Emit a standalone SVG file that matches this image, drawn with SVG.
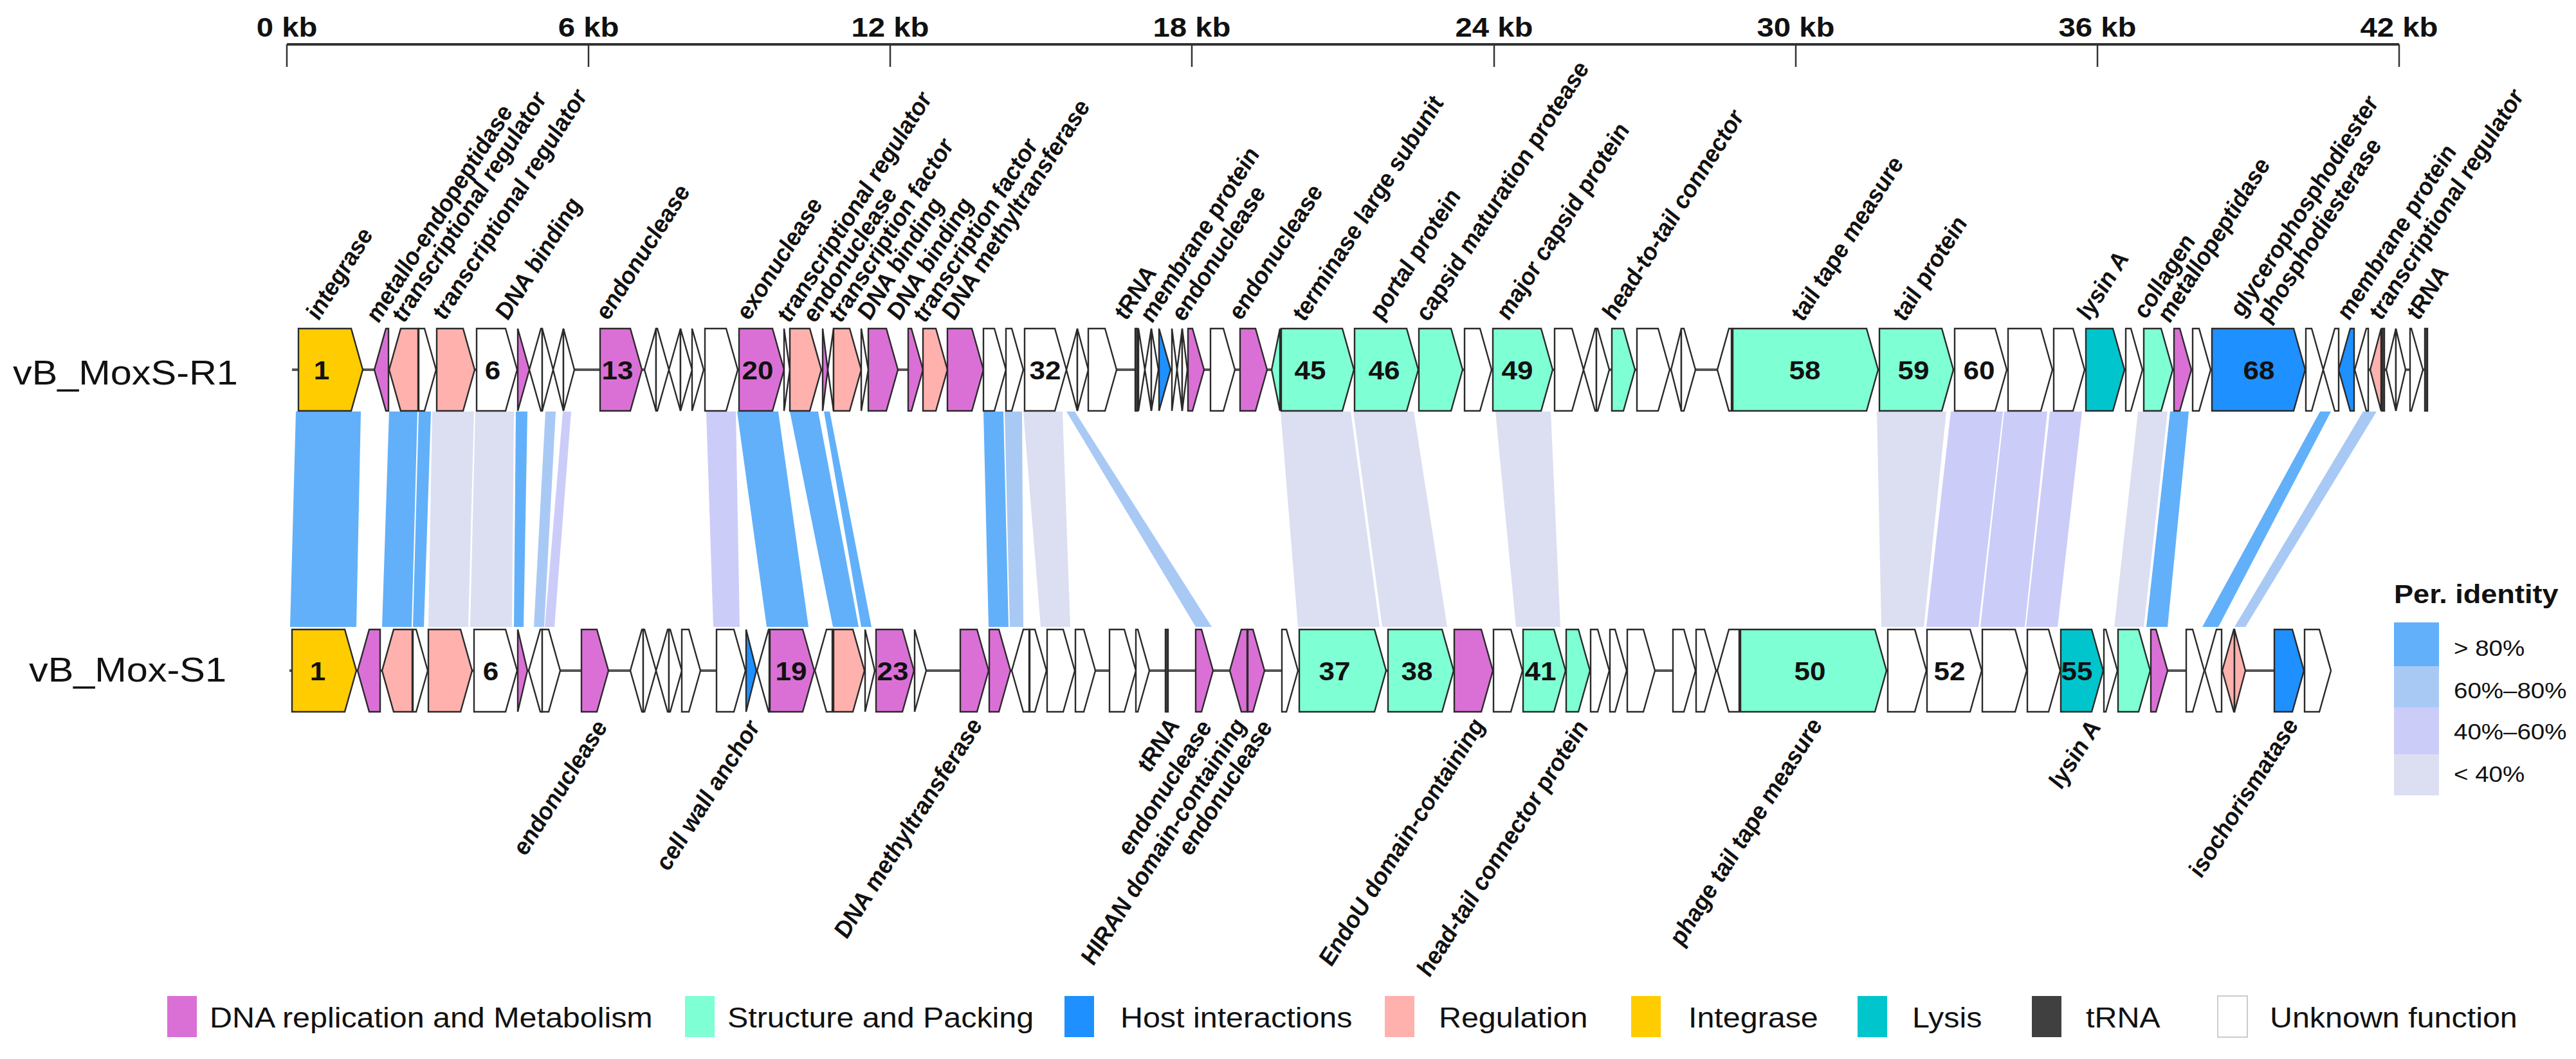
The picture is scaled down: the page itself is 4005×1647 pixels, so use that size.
<svg xmlns="http://www.w3.org/2000/svg" width="4005" height="1647" viewBox="0 0 4005 1647">
<style>
text{font-family:"Liberation Sans",Arial,sans-serif;fill:#111}
.ax{font-size:43px;font-weight:bold;text-anchor:middle}
.row{font-size:54px}
.num{font-size:40px;font-weight:bold;text-anchor:middle}
.lt{font-size:35px;font-weight:bold;font-style:italic}
.lb{font-size:35px;font-weight:bold;font-style:italic;text-anchor:end}
.leg{font-size:44px}
.pct{font-size:35px}
.ttl{font-size:41px;font-weight:bold}
.gene polygon{stroke:#2a2a2a;stroke-width:2.4;stroke-linejoin:miter}
.dna{fill:#DA70D6}.str{fill:#7FFFD4}.host{fill:#1E90FF}.reg{fill:#FFB1AE}.int{fill:#FFCC00}.lys{fill:#00C5CD}.trna{fill:#404040}.unk{fill:#fff}
.b80{fill:#62B0FA}.b60{fill:#A9C9F5}.b40{fill:#CCCCF9}.b0{fill:#DCDFF2}
.bb{stroke:#555;stroke-width:4}
</style>

<g id="axis">
<line x1="446" y1="69" x2="3730" y2="69" stroke="#333" stroke-width="4"/>
<g stroke="#333" stroke-width="2.5">
<line x1="446" y1="69" x2="446" y2="104"/><line x1="915" y1="69" x2="915" y2="104"/><line x1="1384" y1="69" x2="1384" y2="104"/><line x1="1853" y1="69" x2="1853" y2="104"/><line x1="2323" y1="69" x2="2323" y2="104"/><line x1="2792" y1="69" x2="2792" y2="104"/><line x1="3261" y1="69" x2="3261" y2="104"/><line x1="3730" y1="69" x2="3730" y2="104"/>
</g>
<text class="ax" transform="translate(446,57) scale(1.1,1)">0 kb</text>
<text class="ax" transform="translate(915,57) scale(1.1,1)">6 kb</text>
<text class="ax" transform="translate(1384,57) scale(1.1,1)">12 kb</text>
<text class="ax" transform="translate(1853,57) scale(1.1,1)">18 kb</text>
<text class="ax" transform="translate(2323,57) scale(1.1,1)">24 kb</text>
<text class="ax" transform="translate(2792,57) scale(1.1,1)">30 kb</text>
<text class="ax" transform="translate(3261,57) scale(1.1,1)">36 kb</text>
<text class="ax" transform="translate(3730,57) scale(1.1,1)">42 kb</text>
</g>

<g id="connectors">
<polygon class="b80" points="460,640 561,640 554,975 451,975"/>
<polygon class="b80" points="605,640 649,640 640,975 594,975"/>
<polygon class="b80" points="651,640 670,640 659,975 642,975"/>
<polygon class="b0" points="672,640 737,640 728,975 666,975"/>
<polygon class="b0" points="739,640 799,640 796,975 731,975"/>
<polygon class="b80" points="802,640 820,640 814,975 799,975"/>
<polygon class="b60" points="848,640 864,640 846,975 830,975"/>
<polygon class="b40" points="875,640 888,640 862,975 847,975"/>
<polygon class="b40" points="1098,640 1144,640 1150,975 1109,975"/>
<polygon class="b80" points="1146,640 1210,640 1257,975 1192,975"/>
<polygon class="b80" points="1228,640 1272,640 1335,975 1295,975"/>
<polygon class="b80" points="1281,640 1290,640 1355,975 1339,975"/>
<polygon class="b80" points="1529,640 1560,640 1568,975 1537,975"/>
<polygon class="b60" points="1562,640 1589,640 1591,975 1570,975"/>
<polygon class="b0" points="1591,640 1652,640 1664,975 1618,975"/>
<polygon class="b60" points="1658,640 1671,640 1884,975 1859,975"/>
<polygon class="b0" points="1991,640 2100,640 2145,975 2018,975"/>
<polygon class="b0" points="2104,640 2198,640 2250,975 2149,975"/>
<polygon class="b0" points="2325,640 2411,640 2426,975 2357,975"/>
<polygon class="b0" points="2918,640 3026,640 2991,975 2925,975"/>
<polygon class="b40" points="3033,640 3114,640 3076,975 2995,975"/>
<polygon class="b40" points="3116,640 3183,640 3148,975 3079,975"/>
<polygon class="b40" points="3187,640 3237,640 3199,975 3150,975"/>
<polygon class="b0" points="3324,640 3370,640 3333,975 3287,975"/>
<polygon class="b80" points="3374,640 3403,640 3370,975 3337,975"/>
<polygon class="b80" points="3607,640 3624,640 3449,975 3424,975"/>
<polygon class="b60" points="3674,640 3695,640 3491,975 3474,975"/>
</g>

<text class="row" transform="translate(20,598) scale(1.1,1)">vB_MoxS-R1</text>
<text class="row" transform="translate(45,1060) scale(1.1,1)">vB_Mox-S1</text>

<g id="row1">
<line class="bb" x1="454" y1="575" x2="3774" y2="575"/>
<g class="gene">
<g id="R1_1" class="int"><polygon points="464,511 546,511 564,575 546,639 464,639"/></g>
<g id="R1_2" class="dna"><polygon points="604,511 600,511 582,575 600,639 604,639"/></g>
<g id="R1_3" class="reg"><polygon points="650,511 623,511 605,575 623,639 650,639"/></g>
<g id="R1_4" class="unk"><polygon points="651,511 660,511 678,575 660,639 651,639"/></g>
<g id="R1_5" class="reg"><polygon points="679,511 720,511 738,575 720,639 679,639"/></g>
<g id="R1_6" class="unk"><polygon points="741,511 786,511 804,575 786,639 741,639"/></g>
<g id="R1_7" class="dna"><polygon points="805,511 823,575 805,639"/></g>
<g id="R1_8" class="unk"><polygon points="843,511 841,511 823,575 841,639 843,639"/></g>
<g id="R1_9" class="unk"><polygon points="843,511 860,575 843,639"/></g>
<g id="R1_10" class="unk"><polygon points="876,511 860,575 876,639"/></g>
<g id="R1_11" class="unk"><polygon points="876,511 893,575 876,639"/></g>
<g id="R1_13" class="dna"><polygon points="933,511 980,511 998,575 980,639 933,639"/></g>
<g id="R1_14" class="unk"><polygon points="1020,511 1002,575 1020,639"/></g>
<g id="R1_15" class="unk"><polygon points="1020,511 1022,511 1040,575 1022,639 1020,639"/></g>
<g id="R1_16" class="unk"><polygon points="1058,511 1040,575 1058,639"/></g>
<g id="R1_17" class="unk"><polygon points="1058,511 1076,575 1058,639"/></g>
<g id="R1_18" class="unk"><polygon points="1076,511 1094,575 1076,639"/></g>
<g id="R1_19" class="unk"><polygon points="1096,511 1129,511 1147,575 1129,639 1096,639"/></g>
<g id="R1_20" class="dna"><polygon points="1149,511 1201,511 1219,575 1201,639 1149,639"/></g>
<g id="R1_21" class="unk"><polygon points="1219,511 1228,575 1219,639"/></g>
<g id="R1_22" class="reg"><polygon points="1228,511 1259,511 1277,575 1259,639 1228,639"/></g>
<g id="R1_23" class="dna"><polygon points="1279,511 1287,575 1279,639"/></g>
<g id="R1_24" class="unk"><polygon points="1296,511 1287,575 1296,639"/></g>
<g id="R1_25" class="reg"><polygon points="1296,511 1321,511 1339,575 1321,639 1296,639"/></g>
<g id="R1_26" class="unk"><polygon points="1339,511 1350,575 1339,639"/></g>
<g id="R1_27" class="dna"><polygon points="1350,511 1378,511 1396,575 1378,639 1350,639"/></g>
<g id="R1_28" class="dna"><polygon points="1412,511 1417,511 1435,575 1417,639 1412,639"/></g>
<g id="R1_29" class="reg"><polygon points="1435,511 1455,511 1473,575 1455,639 1435,639"/></g>
<g id="R1_30" class="dna"><polygon points="1473,511 1511,511 1529,575 1511,639 1473,639"/></g>
<g id="R1_31" class="unk"><polygon points="1529,511 1546,511 1564,575 1546,639 1529,639"/></g>
<g id="R1_31b" class="unk"><polygon points="1564,511 1573,511 1591,575 1573,639 1564,639"/></g>
<g id="R1_32" class="unk"><polygon points="1593,511 1640,511 1658,575 1640,639 1593,639"/></g>
<g id="R1_33" class="unk"><polygon points="1675,511 1658,575 1675,639"/></g>
<g id="R1_34" class="unk"><polygon points="1675,511 1692,575 1675,639"/></g>
<g id="R1_35" class="unk"><polygon points="1692,511 1718,511 1736,575 1718,639 1692,639"/></g>
<g id="R1_36" class="trna"><polygon points="1765,511 1769,511 1769,639 1765,639"/></g>
<g id="R1_37" class="unk"><polygon points="1770,511 1780,575 1770,639"/></g>
<g id="R1_38" class="unk"><polygon points="1790,511 1780,575 1790,639"/></g>
<g id="R1_39" class="unk"><polygon points="1790,511 1801,575 1790,639"/></g>
<g id="R1_40" class="host"><polygon points="1802,511 1820,575 1802,639"/></g>
<g id="R1_41" class="unk"><polygon points="1822,511 1830,575 1822,639"/></g>
<g id="R1_42" class="unk"><polygon points="1838,511 1830,575 1838,639"/></g>
<g id="R1_43" class="unk"><polygon points="1838,511 1846,575 1838,639"/></g>
<g id="R1_44" class="dna"><polygon points="1847,511 1854,511 1872,575 1854,639 1847,639"/></g>
<g id="R1_44b" class="unk"><polygon points="1882,511 1902,511 1920,575 1902,639 1882,639"/></g>
<g id="R1_44c" class="dna"><polygon points="1928,511 1952,511 1970,575 1952,639 1928,639"/></g>
<g id="R1_44d" class="str"><polygon points="1990,511 1977,575 1990,639"/></g>
<g id="R1_45" class="str"><polygon points="1992,511 2087,511 2105,575 2087,639 1992,639"/></g>
<g id="R1_46" class="str"><polygon points="2106,511 2187,511 2205,575 2187,639 2106,639"/></g>
<g id="R1_47" class="str"><polygon points="2206,511 2256,511 2274,575 2256,639 2206,639"/></g>
<g id="R1_48" class="unk"><polygon points="2277,511 2301,511 2319,575 2301,639 2277,639"/></g>
<g id="R1_49" class="str"><polygon points="2321,511 2396,511 2414,575 2396,639 2321,639"/></g>
<g id="R1_50" class="unk"><polygon points="2417,511 2444,511 2462,575 2444,639 2417,639"/></g>
<g id="R1_51" class="unk"><polygon points="2482,511 2480,511 2462,575 2480,639 2482,639"/></g>
<g id="R1_52" class="unk"><polygon points="2482,511 2484,511 2502,575 2484,639 2482,639"/></g>
<g id="R1_53" class="str"><polygon points="2506,511 2524,511 2542,575 2524,639 2506,639"/></g>
<g id="R1_54" class="unk"><polygon points="2545,511 2578,511 2596,575 2578,639 2545,639"/></g>
<g id="R1_55" class="unk"><polygon points="2614,511 2598,575 2614,639"/></g>
<g id="R1_56" class="unk"><polygon points="2614,511 2618,511 2636,575 2618,639 2614,639"/></g>
<g id="R1_57" class="unk"><polygon points="2692,511 2688,511 2670,575 2688,639 2692,639"/></g>
<g id="R1_58" class="str"><polygon points="2694,511 2902,511 2920,575 2902,639 2694,639"/></g>
<g id="R1_59" class="str"><polygon points="2922,511 3019,511 3037,575 3019,639 2922,639"/></g>
<g id="R1_60" class="unk"><polygon points="3039,511 3102,511 3120,575 3102,639 3039,639"/></g>
<g id="R1_61" class="unk"><polygon points="3122,511 3173,511 3191,575 3173,639 3122,639"/></g>
<g id="R1_62" class="unk"><polygon points="3193,511 3223,511 3241,575 3223,639 3193,639"/></g>
<g id="R1_63" class="lys"><polygon points="3243,511 3285,511 3303,575 3285,639 3243,639"/></g>
<g id="R1_64" class="unk"><polygon points="3305,511 3313,511 3331,575 3313,639 3305,639"/></g>
<g id="R1_65" class="str"><polygon points="3333,511 3360,511 3378,575 3360,639 3333,639"/></g>
<g id="R1_66" class="dna"><polygon points="3380,511 3389,511 3407,575 3389,639 3380,639"/></g>
<g id="R1_67" class="unk"><polygon points="3409,511 3419,511 3437,575 3419,639 3409,639"/></g>
<g id="R1_68" class="host"><polygon points="3439,511 3566,511 3584,575 3566,639 3439,639"/></g>
<g id="R1_69" class="unk"><polygon points="3585,511 3594,511 3612,575 3594,639 3585,639"/></g>
<g id="R1_70" class="unk"><polygon points="3636,511 3630,511 3612,575 3630,639 3636,639"/></g>
<g id="R1_71" class="host"><polygon points="3660,511 3654,511 3636,575 3654,639 3660,639"/></g>
<g id="R1_72" class="unk"><polygon points="3682,511 3679,511 3661,575 3679,639 3682,639"/></g>
<g id="R1_73" class="reg"><polygon points="3702,511 3685,575 3702,639"/></g>
<g id="R1_74" class="trna"><polygon points="3703,511 3707,511 3707,639 3703,639"/></g>
<g id="R1_75" class="unk"><polygon points="3725,511 3710,575 3725,639"/></g>
<g id="R1_76" class="unk"><polygon points="3725,511 3740,575 3725,639"/></g>
<g id="R1_77" class="unk"><polygon points="3747,511 3749,511 3767,575 3749,639 3747,639"/></g>
<g id="R1_78" class="trna"><polygon points="3770,511 3774,511 3774,639 3770,639"/></g>
</g>
<g id="row1-nums">
<text class="num" transform="translate(500,590) scale(1.1,1)">1</text>
<text class="num" transform="translate(766,590) scale(1.1,1)">6</text>
<text class="num" transform="translate(960,590) scale(1.1,1)">13</text>
<text class="num" transform="translate(1178,590) scale(1.1,1)">20</text>
<text class="num" transform="translate(1625,590) scale(1.1,1)">32</text>
<text class="num" transform="translate(2037,590) scale(1.1,1)">45</text>
<text class="num" transform="translate(2152,590) scale(1.1,1)">46</text>
<text class="num" transform="translate(2359,590) scale(1.1,1)">49</text>
<text class="num" transform="translate(2806,590) scale(1.1,1)">58</text>
<text class="num" transform="translate(2975,590) scale(1.1,1)">59</text>
<text class="num" transform="translate(3077,590) scale(1.1,1)">60</text>
<text class="num" transform="translate(3512,590) scale(1.1,1)">68</text>
</g>
</g>

<g id="row2">
<line class="bb" x1="450" y1="1043" x2="3624" y2="1043"/>
<g class="gene">
<g id="S1_1" class="int"><polygon points="454,979 536,979 554,1043 536,1107 454,1107"/></g>
<g id="S1_2" class="dna"><polygon points="591,979 574,979 556,1043 574,1107 591,1107"/></g>
<g id="S1_3" class="reg"><polygon points="641,979 612,979 594,1043 612,1107 641,1107"/></g>
<g id="S1_4" class="unk"><polygon points="642,979 647,979 665,1043 647,1107 642,1107"/></g>
<g id="S1_5" class="reg"><polygon points="666,979 716,979 734,1043 716,1107 666,1107"/></g>
<g id="S1_6" class="unk"><polygon points="737,979 786,979 804,1043 786,1107 737,1107"/></g>
<g id="S1_7" class="dna"><polygon points="805,979 820,1043 805,1107"/></g>
<g id="S1_8" class="unk"><polygon points="843,979 840,979 822,1043 840,1107 843,1107"/></g>
<g id="S1_9" class="unk"><polygon points="843,979 853,979 871,1043 853,1107 843,1107"/></g>
<g id="S1_10" class="dna"><polygon points="904,979 928,979 946,1043 928,1107 904,1107"/></g>
<g id="S1_11" class="unk"><polygon points="1000,979 998,979 980,1043 998,1107 1000,1107"/></g>
<g id="S1_12" class="unk"><polygon points="1000,979 1002,979 1020,1043 1002,1107 1000,1107"/></g>
<g id="S1_13" class="unk"><polygon points="1040,979 1038,979 1020,1043 1038,1107 1040,1107"/></g>
<g id="S1_14" class="unk"><polygon points="1040,979 1042,979 1060,1043 1042,1107 1040,1107"/></g>
<g id="S1_15" class="unk"><polygon points="1060,979 1071,979 1089,1043 1071,1107 1060,1107"/></g>
<g id="S1_16" class="unk"><polygon points="1114,979 1141,979 1159,1043 1141,1107 1114,1107"/></g>
<g id="S1_17" class="host"><polygon points="1160,979 1176,1043 1160,1107"/></g>
<g id="S1_18" class="unk"><polygon points="1196,979 1195,979 1177,1043 1195,1107 1196,1107"/></g>
<g id="S1_19" class="dna"><polygon points="1197,979 1248,979 1266,1043 1248,1107 1197,1107"/></g>
<g id="S1_20" class="unk"><polygon points="1294,979 1285,979 1267,1043 1285,1107 1294,1107"/></g>
<g id="S1_21" class="reg"><polygon points="1296,979 1326,979 1344,1043 1326,1107 1296,1107"/></g>
<g id="S1_22" class="unk"><polygon points="1345,979 1360,1043 1345,1107"/></g>
<g id="S1_23" class="dna"><polygon points="1362,979 1403,979 1421,1043 1403,1107 1362,1107"/></g>
<g id="S1_24" class="unk"><polygon points="1422,979 1440,1043 1422,1107"/></g>
<g id="S1_25" class="dna"><polygon points="1493,979 1519,979 1537,1043 1519,1107 1493,1107"/></g>
<g id="S1_26" class="dna"><polygon points="1538,979 1553,979 1571,1043 1553,1107 1538,1107"/></g>
<g id="S1_27" class="unk"><polygon points="1600,979 1591,979 1573,1043 1591,1107 1600,1107"/></g>
<g id="S1_28" class="unk"><polygon points="1601,979 1609,979 1627,1043 1609,1107 1601,1107"/></g>
<g id="S1_29" class="unk"><polygon points="1628,979 1653,979 1671,1043 1653,1107 1628,1107"/></g>
<g id="S1_30" class="unk"><polygon points="1672,979 1685,979 1703,1043 1685,1107 1672,1107"/></g>
<g id="S1_31" class="unk"><polygon points="1725,979 1748,979 1766,1043 1748,1107 1725,1107"/></g>
<g id="S1_32" class="unk"><polygon points="1766,979 1769,979 1787,1043 1769,1107 1766,1107"/></g>
<g id="S1_33" class="trna"><polygon points="1812,979 1816,979 1816,1107 1812,1107"/></g>
<g id="S1_34" class="dna"><polygon points="1859,979 1868,979 1886,1043 1868,1107 1859,1107"/></g>
<g id="S1_35" class="dna"><polygon points="1939,979 1930,979 1912,1043 1930,1107 1939,1107"/></g>
<g id="S1_36" class="dna"><polygon points="1940,979 1948,979 1966,1043 1948,1107 1940,1107"/></g>
<g id="S1_36b" class="unk"><polygon points="1993,979 2000,979 2018,1043 2000,1107 1993,1107"/></g>
<g id="S1_37" class="str"><polygon points="2020,979 2137,979 2155,1043 2137,1107 2020,1107"/></g>
<g id="S1_38" class="str"><polygon points="2158,979 2242,979 2260,1043 2242,1107 2158,1107"/></g>
<g id="S1_39" class="dna"><polygon points="2261,979 2303,979 2321,1043 2303,1107 2261,1107"/></g>
<g id="S1_40" class="unk"><polygon points="2322,979 2349,979 2367,1043 2349,1107 2322,1107"/></g>
<g id="S1_41" class="str"><polygon points="2368,979 2416,979 2434,1043 2416,1107 2368,1107"/></g>
<g id="S1_42" class="str"><polygon points="2435,979 2454,979 2472,1043 2454,1107 2435,1107"/></g>
<g id="S1_43" class="unk"><polygon points="2473,979 2484,979 2502,1043 2484,1107 2473,1107"/></g>
<g id="S1_44" class="unk"><polygon points="2503,979 2511,979 2529,1043 2511,1107 2503,1107"/></g>
<g id="S1_45" class="unk"><polygon points="2530,979 2555,979 2573,1043 2555,1107 2530,1107"/></g>
<g id="S1_46" class="unk"><polygon points="2601,979 2618,979 2636,1043 2618,1107 2601,1107"/></g>
<g id="S1_47" class="unk"><polygon points="2637,979 2650,979 2668,1043 2650,1107 2637,1107"/></g>
<g id="S1_48" class="unk"><polygon points="2704,979 2688,979 2670,1043 2688,1107 2704,1107"/></g>
<g id="S1_50" class="str"><polygon points="2706,979 2915,979 2933,1043 2915,1107 2706,1107"/></g>
<g id="S1_51" class="unk"><polygon points="2935,979 2977,979 2995,1043 2977,1107 2935,1107"/></g>
<g id="S1_52" class="unk"><polygon points="2996,979 3063,979 3081,1043 3063,1107 2996,1107"/></g>
<g id="S1_53" class="unk"><polygon points="3082,979 3133,979 3151,1043 3133,1107 3082,1107"/></g>
<g id="S1_54" class="unk"><polygon points="3152,979 3185,979 3203,1043 3185,1107 3152,1107"/></g>
<g id="S1_55" class="lys"><polygon points="3204,979 3252,979 3270,1043 3252,1107 3204,1107"/></g>
<g id="S1_56" class="unk"><polygon points="3271,979 3274,979 3292,1043 3274,1107 3271,1107"/></g>
<g id="S1_57" class="str"><polygon points="3293,979 3325,979 3343,1043 3325,1107 3293,1107"/></g>
<g id="S1_58" class="dna"><polygon points="3344,979 3352,979 3370,1043 3352,1107 3344,1107"/></g>
<g id="S1_59" class="unk"><polygon points="3399,979 3409,979 3427,1043 3409,1107 3399,1107"/></g>
<g id="S1_60" class="unk"><polygon points="3454,979 3446,979 3428,1043 3446,1107 3454,1107"/></g>
<g id="S1_61" class="reg"><polygon points="3474,979 3473,979 3455,1043 3473,1107 3474,1107"/></g>
<g id="S1_62" class="reg"><polygon points="3474,979 3491,1043 3474,1107"/></g>
<g id="S1_63" class="host"><polygon points="3536,979 3564,979 3582,1043 3564,1107 3536,1107"/></g>
<g id="S1_64" class="unk"><polygon points="3583,979 3606,979 3624,1043 3606,1107 3583,1107"/></g>
</g>
<g id="row2-nums">
<text class="num" transform="translate(494,1058) scale(1.1,1)">1</text>
<text class="num" transform="translate(763,1058) scale(1.1,1)">6</text>
<text class="num" transform="translate(1230,1058) scale(1.1,1)">19</text>
<text class="num" transform="translate(1388,1058) scale(1.1,1)">23</text>
<text class="num" transform="translate(2075,1058) scale(1.1,1)">37</text>
<text class="num" transform="translate(2203,1058) scale(1.1,1)">38</text>
<text class="num" transform="translate(2395,1058) scale(1.1,1)">41</text>
<text class="num" transform="translate(2814,1058) scale(1.1,1)">50</text>
<text class="num" transform="translate(3031,1058) scale(1.1,1)">52</text>
<text class="num" transform="translate(3229,1058) scale(1.1,1)">55</text>
</g>
</g>

<g id="labels-top">
<text class="lt" transform="translate(496,499) scale(1.1,1) rotate(-60)">integrase</text>
<text class="lt" transform="translate(589,503) scale(1.1,1) rotate(-60)">metallo-endopeptidase</text>
<text class="lt" transform="translate(629,503) scale(1.1,1) rotate(-60)">transcriptional regulator</text>
<text class="lt" transform="translate(692,499) scale(1.1,1) rotate(-60)">transcriptional regulator</text>
<text class="lt" transform="translate(790,499) scale(1.1,1) rotate(-60)">DNA binding</text>
<text class="lt" transform="translate(946,499) scale(1.1,1) rotate(-60)">endonuclease</text>
<text class="lt" transform="translate(1165,499) scale(1.1,1) rotate(-60)">exonuclease</text>
<text class="lt" transform="translate(1228,503) scale(1.1,1) rotate(-60)">transcriptional regulator</text>
<text class="lt" transform="translate(1268,503) scale(1.1,1) rotate(-60)">endonuclease</text>
<text class="lt" transform="translate(1308,503) scale(1.1,1) rotate(-60)">transcription factor</text>
<text class="lt" transform="translate(1353,499) scale(1.1,1) rotate(-60)">DNA binding</text>
<text class="lt" transform="translate(1399,499) scale(1.1,1) rotate(-60)">DNA binding</text>
<text class="lt" transform="translate(1439,503) scale(1.1,1) rotate(-60)">transcription factor</text>
<text class="lt" transform="translate(1484,499) scale(1.1,1) rotate(-60)">DNA methyltransferase</text>
<text class="lt" transform="translate(1752,499) scale(1.1,1) rotate(-60)">tRNA</text>
<text class="lt" transform="translate(1792,503) scale(1.1,1) rotate(-60)">membrane protein</text>
<text class="lt" transform="translate(1841,501) scale(1.1,1) rotate(-60)">endonuclease</text>
<text class="lt" transform="translate(1930,499) scale(1.1,1) rotate(-60)">endonuclease</text>
<text class="lt" transform="translate(2029,501) scale(1.1,1) rotate(-60)">terminase large subunit</text>
<text class="lt" transform="translate(2149,499) scale(1.1,1) rotate(-60)">portal protein</text>
<text class="lt" transform="translate(2221,501) scale(1.1,1) rotate(-60)">capsid maturation protease</text>
<text class="lt" transform="translate(2346,499) scale(1.1,1) rotate(-60)">major capsid protein</text>
<text class="lt" transform="translate(2511,499) scale(1.1,1) rotate(-60)">head-to-tail connector</text>
<text class="lt" transform="translate(2804,501) scale(1.1,1) rotate(-60)">tail tape measure</text>
<text class="lt" transform="translate(2962,501) scale(1.1,1) rotate(-60)">tail protein</text>
<text class="lt" transform="translate(3249,499) scale(1.1,1) rotate(-60)">lysin A</text>
<text class="lt" transform="translate(3337,497) scale(1.1,1) rotate(-60)">collagen</text>
<text class="lt" transform="translate(3374,503) scale(1.1,1) rotate(-60)">metallopeptidase</text>
<text class="lt" transform="translate(3487,494) scale(1.1,1) rotate(-60)">glycerophosphodiester</text>
<text class="lt" transform="translate(3528,503) scale(1.1,1) rotate(-60)">phosphodiesterase</text>
<text class="lt" transform="translate(3653,499) scale(1.1,1) rotate(-60)">membrane protein</text>
<text class="lt" transform="translate(3703,499) scale(1.1,1) rotate(-60)">transcriptional regulator</text>
<text class="lt" transform="translate(3761,499) scale(1.1,1) rotate(-60)">tRNA</text>
</g>

<g id="labels-bottom">
<text class="lb" transform="translate(946,1130) scale(1.1,1) rotate(-60)">endonuclease</text>
<text class="lb" transform="translate(1183,1130) scale(1.1,1) rotate(-60)">cell wall anchor</text>
<text class="lb" transform="translate(1529,1127) scale(1.1,1) rotate(-60)">DNA methyltransferase</text>
<text class="lb" transform="translate(1836,1127) scale(1.1,1) rotate(-60)">tRNA</text>
<text class="lb" transform="translate(1886,1130) scale(1.1,1) rotate(-60)">endonuclease</text>
<text class="lb" transform="translate(1939,1127) scale(1.1,1) rotate(-60)">HIRAN domain-containing</text>
<text class="lb" transform="translate(1980,1130) scale(1.1,1) rotate(-60)">endonuclease</text>
<text class="lb" transform="translate(2310,1127) scale(1.1,1) rotate(-60)">EndoU domain-containing</text>
<text class="lb" transform="translate(2471,1130) scale(1.1,1) rotate(-60)">head-tail connector protein</text>
<text class="lb" transform="translate(2835,1127) scale(1.1,1) rotate(-60)">phage tail tape measure</text>
<text class="lb" transform="translate(3268,1130) scale(1.1,1) rotate(-60)">lysin A</text>
<text class="lb" transform="translate(3575,1127) scale(1.1,1) rotate(-60)">isochorismatase</text>
</g>

<g id="identity-legend">
<text class="ttl" transform="translate(3722,938) scale(1.1,1)">Per. identity</text>
<rect x="3722" y="968" width="70" height="68" class="b80"/>
<rect x="3722" y="1036" width="70" height="64" class="b60"/>
<rect x="3722" y="1100" width="70" height="73" class="b40"/>
<rect x="3722" y="1173" width="70" height="64" class="b0"/>
<text class="pct" transform="translate(3815,1020) scale(1.1,1)">&gt; 80%</text>
<text class="pct" transform="translate(3815,1086) scale(1.1,1)">60%–80%</text>
<text class="pct" transform="translate(3815,1150) scale(1.1,1)">40%–60%</text>
<text class="pct" transform="translate(3815,1216) scale(1.1,1)">&lt; 40%</text>
</g>

<g id="category-legend">
<rect x="260" y="1549" width="46" height="64" class="dna"/>
<text class="leg" transform="translate(326,1598) scale(1.1,1)">DNA replication and Metabolism</text>
<rect x="1065" y="1549" width="46" height="64" class="str"/>
<text class="leg" transform="translate(1131,1598) scale(1.1,1)">Structure and Packing</text>
<rect x="1655" y="1549" width="46" height="64" class="host"/>
<text class="leg" transform="translate(1742,1598) scale(1.1,1)">Host interactions</text>
<rect x="2153" y="1549" width="46" height="64" class="reg"/>
<text class="leg" transform="translate(2237,1598) scale(1.1,1)">Regulation</text>
<rect x="2536" y="1549" width="46" height="64" class="int"/>
<text class="leg" transform="translate(2625,1598) scale(1.1,1)">Integrase</text>
<rect x="2888" y="1549" width="46" height="64" class="lys"/>
<text class="leg" transform="translate(2973,1598) scale(1.1,1)">Lysis</text>
<rect x="3159" y="1549" width="46" height="64" class="trna"/>
<text class="leg" transform="translate(3243,1598) scale(1.1,1)">tRNA</text>
<rect x="3448" y="1549" width="46" height="64" fill="#fff" stroke="#ccc" stroke-width="2"/>
<text class="leg" transform="translate(3529,1598) scale(1.1,1)">Unknown function</text>
</g>
</svg>
